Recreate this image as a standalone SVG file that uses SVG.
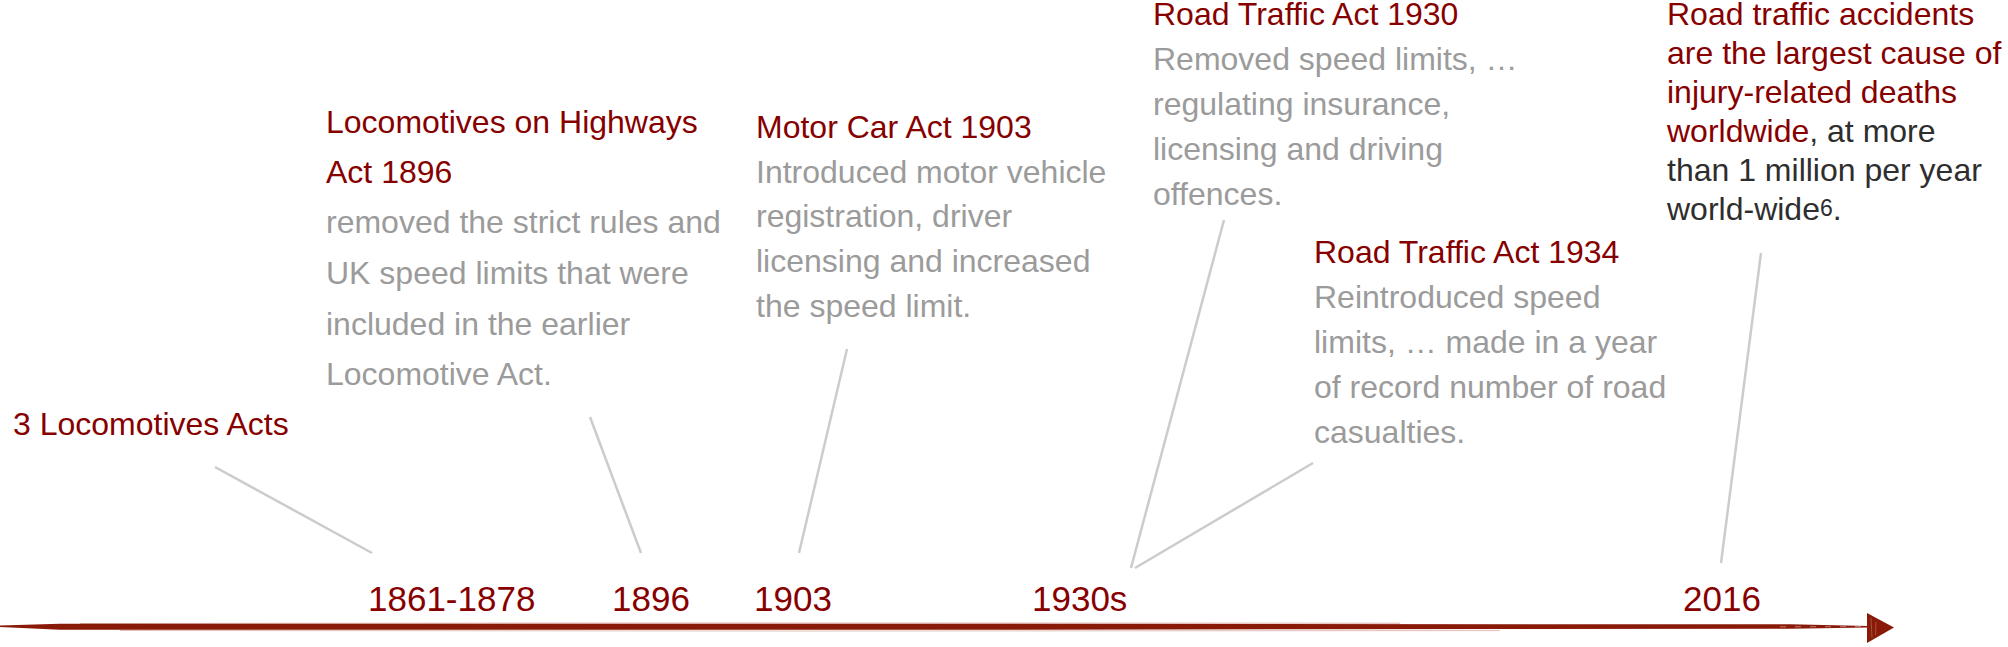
<svg xmlns="http://www.w3.org/2000/svg" width="2008" height="647" viewBox="0 0 2008 647">
  <style>
    text { font-family: "Liberation Sans", Arial, Helvetica, sans-serif; }
    .head { fill: #870000; font-size: 32px; }
    .body { fill: #9b9b9b; font-size: 32px; }
    .dark { fill: #2e2e2e; }
    .red { fill: #870000; }
    .year { fill: #870000; font-size: 35px; }
    .conn line { stroke: #cccccc; stroke-width: 2.5; stroke-linecap: butt; }
  </style>
  <rect width="2008" height="647" fill="#ffffff"/>

  <g id="timeline">
    <path d="M0,625.5 L60,623.8 L900,623.8 L1790,624.3 L1868,626 L1868,627.5 L1790,628.7 L900,629.8 L60,629.8 L0,627 Z" fill="#8a1a08"/>
    <path d="M80,623.5 L700,623 L1400,623.2" stroke="#b25a4c" stroke-width="0.8" fill="none" opacity="0.6"/>
    <path d="M120,630.5 L800,631 L1500,630.6" stroke="#b25a4c" stroke-width="0.8" fill="none" opacity="0.5"/>
    <path d="M1780,626.8 L1866,626.6" stroke="#ffffff" stroke-width="0.6" stroke-dasharray="6 9" opacity="0.7"/>
    <polygon points="1867,613 1894,627.5 1867,643" fill="#8a1a08"/>
    <path d="M1871,618 L1872,638 M1876,622 L1875.5,635" stroke="#c98a80" stroke-width="0.8" opacity="0.6" fill="none"/>
  </g>

  <g class="conn" id="connectors">
    <line x1="215" y1="467" x2="372" y2="553"/>
    <line x1="590" y1="417" x2="641" y2="553"/>
    <line x1="847" y1="349" x2="799" y2="553"/>
    <line x1="1224" y1="220" x2="1131" y2="568"/>
    <line x1="1313" y1="463" x2="1135" y2="568"/>
    <line x1="1761" y1="253" x2="1721" y2="563"/>
  </g>

  <g id="node-1861">
    <text class="head" x="13" y="435">3 Locomotives Acts</text>
    <text class="year" x="368" y="611">1861-1878</text>
  </g>

  <g id="node-1896">
    <text class="head" x="326" y="133">Locomotives on Highways</text>
    <text class="head" x="326" y="183">Act 1896</text>
    <text class="body" x="326" y="233">removed the strict rules and</text>
    <text class="body" x="326" y="284">UK speed limits that were</text>
    <text class="body" x="326" y="335">included in the earlier</text>
    <text class="body" x="326" y="385">Locomotive Act.</text>
    <text class="year" x="612" y="611">1896</text>
  </g>

  <g id="node-1903">
    <text class="head" x="756" y="138">Motor Car Act 1903</text>
    <text class="body" x="756" y="183">Introduced motor vehicle</text>
    <text class="body" x="756" y="227">registration, driver</text>
    <text class="body" x="756" y="272">licensing and increased</text>
    <text class="body" x="756" y="317">the speed limit.</text>
    <text class="year" x="754" y="611">1903</text>
  </g>

  <g id="node-1930">
    <text class="head" x="1153" y="25">Road Traffic Act 1930</text>
    <text class="body" x="1153" y="70">Removed speed limits, …</text>
    <text class="body" x="1153" y="115">regulating insurance,</text>
    <text class="body" x="1153" y="160">licensing and driving</text>
    <text class="body" x="1153" y="205">offences.</text>
    <text class="year" x="1032" y="611">1930s</text>
  </g>

  <g id="node-1934">
    <text class="head" x="1314" y="263">Road Traffic Act 1934</text>
    <text class="body" x="1314" y="308">Reintroduced speed</text>
    <text class="body" x="1314" y="353">limits, … made in a year</text>
    <text class="body" x="1314" y="398">of record number of road</text>
    <text class="body" x="1314" y="443">casualties.</text>
  </g>

  <g id="node-2016">
    <text class="head" x="1667" y="25">Road traffic accidents</text>
    <text class="head" x="1667" y="64">are the largest cause of</text>
    <text class="head" x="1667" y="103">injury-related deaths</text>
    <text class="head" x="1667" y="142"><tspan class="red">worldwide</tspan><tspan class="dark">, at more</tspan></text>
    <text class="head dark" x="1667" y="181">than 1 million per year</text>
    <text class="head dark" x="1667" y="220">world-wide<tspan font-size="23" dy="-4">6</tspan><tspan dy="4">.</tspan></text>
    <text class="year" x="1683" y="611">2016</text>
  </g>
</svg>
